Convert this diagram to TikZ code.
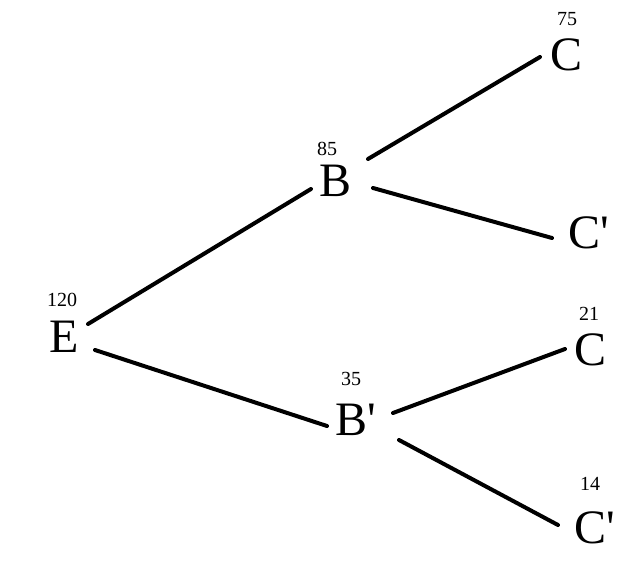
\documentclass[tikz,border=0pt]{standalone}
\usepackage{fontspec}
\setmainfont{Liberation Serif}
\newfontfamily\plainserif{Liberation Serif}
\begin{document}
\begin{tikzpicture}[x=1pt,y=-1pt,
  state/.style={inner sep=0pt,font=\plainserif\fontsize{48}{56}\selectfont},
  count/.style={inner sep=0pt,font=\plainserif\fontsize{20}{24}\selectfont},
  edge/.style={line width=4pt,line cap=round}]
\useasboundingbox (0,0) rectangle (641,567);
% main nodes
\node[state] (E)  at (64,337) {E};
\node[state] (B)  at (336,181) {B};
\node[state] (Bp) at (356,420) {B'};
\node[state] (C1) at (567,55) {C};
\node[state] (C2) at (589,233) {C'};
\node[state] (C3) at (591,350) {C};
\node[state] (C4) at (595,528) {C'};
% counts
\node[count] (nE)  at (62,300) {120};
\node[count] (nB)  at (327,149) {85};
\node[count] (nBp) at (351,379) {35};
\node[count] (nC1) at (567,19) {75};
\node[count] (nC3) at (589,314) {21};
\node[count] (nC4) at (590,484) {14};
% edges
\draw[edge] ([shift={(24,-13)}]E.center) -- ([shift={(-25,8)}]B.center);
\draw[edge] ([shift={(31,13)}]E.center) -- ([shift={(-29,6)}]Bp.center);
\draw[edge] ([shift={(32,-22)}]B.center) -- ([shift={(-27,2)}]C1.center);
\draw[edge] ([shift={(37,7)}]B.center) -- ([shift={(-37,5)}]C2.center);
\draw[edge] ([shift={(37,-7)}]Bp.center) -- ([shift={(-26,-1)}]C3.center);
\draw[edge] ([shift={(43,20)}]Bp.center) -- ([shift={(-37,-3)}]C4.center);
\end{tikzpicture}
\end{document}
